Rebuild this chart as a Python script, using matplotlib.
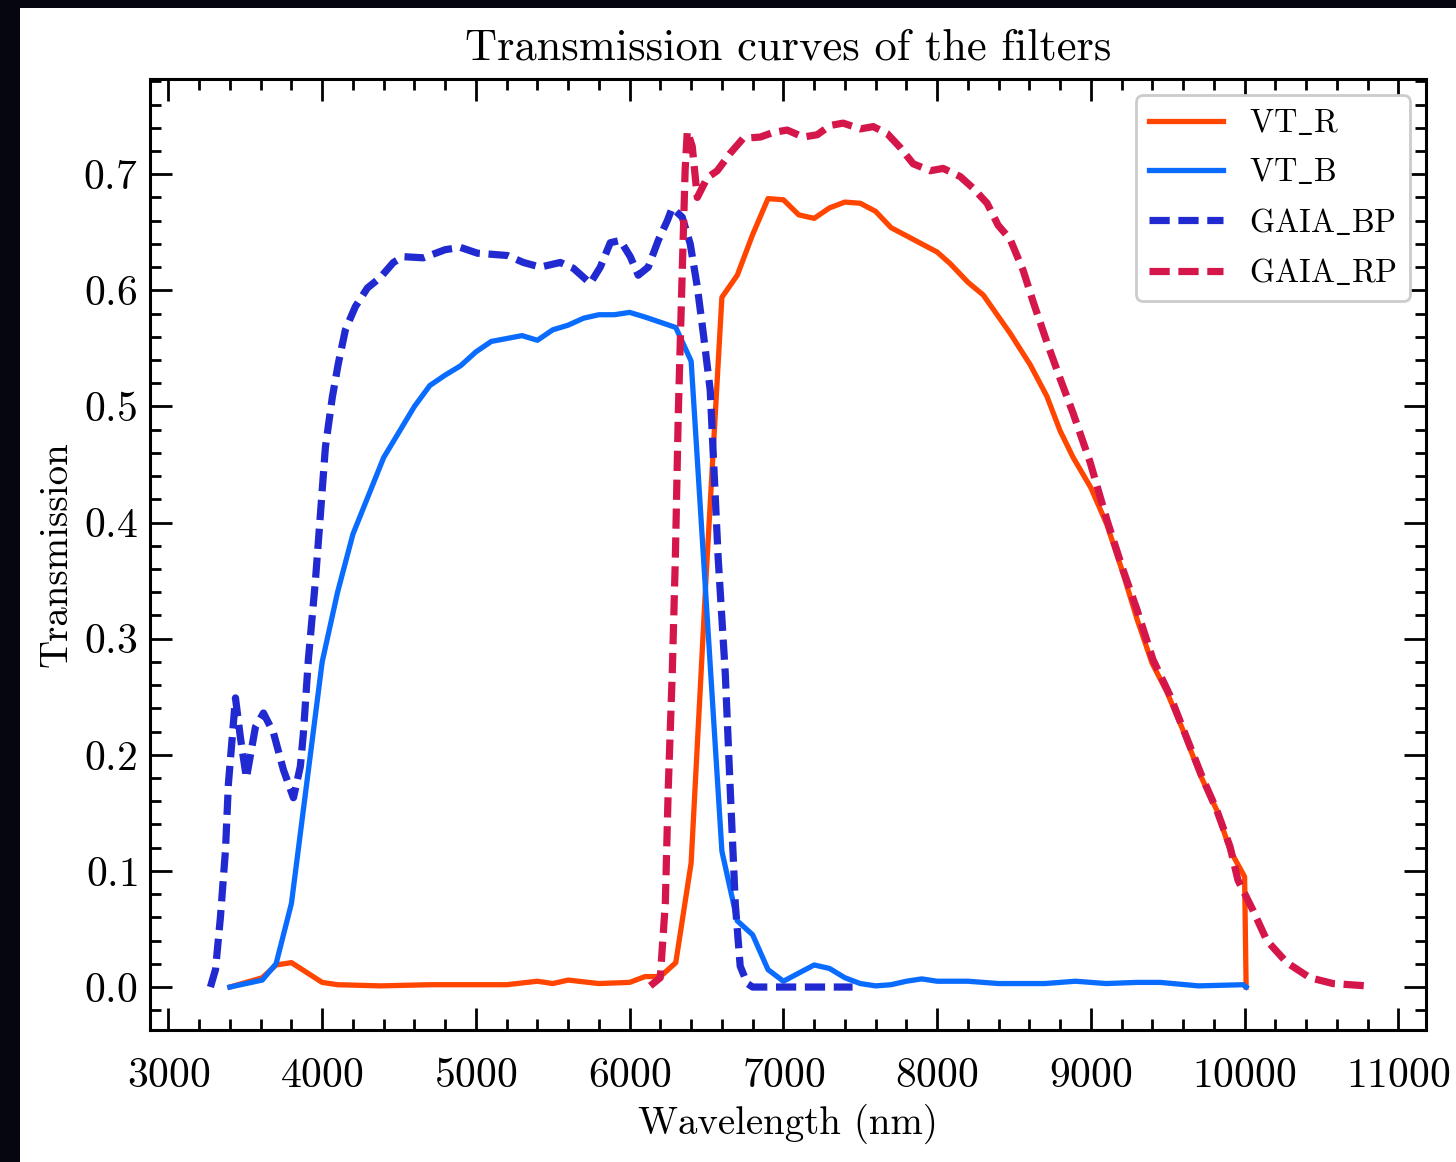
#!/usr/bin/env python

import matplotlib
matplotlib.use("Agg")
import matplotlib.pyplot as plt     # https://matplotlib.org
from matplotlib.patches import Rectangle
from matplotlib.ticker import MultipleLocator

# Transmission curves (wavelength, transmission)
vt_r_wave = [3400, 3610, 3700, 3800, 4000, 4100, 4380, 4700, 5000, 5200,
             5400, 5500, 5600, 5800, 6000, 6100, 6200, 6300, 6400, 6500,
             6600, 6700, 6800, 6900, 7000, 7100, 7200, 7300, 7400, 7500,
             7600, 7700, 7800, 8000, 8085, 8200, 8300, 8475, 8605, 8713,
             8800, 8885, 9000, 9105, 9210, 9300, 9398, 9495, 9600, 9710,
             9820, 9905, 10000, 10010]
vt_r_trans = [0.0, 0.008, 0.019, 0.021, 0.004, 0.002, 0.001, 0.002, 0.002, 0.002,
              0.005, 0.003, 0.006, 0.003, 0.004, 0.009, 0.009, 0.021, 0.107, 0.36,
              0.594, 0.613, 0.648, 0.679, 0.678, 0.665, 0.662, 0.671, 0.676, 0.675,
              0.668, 0.654, 0.647, 0.633, 0.623, 0.607, 0.596, 0.563, 0.536, 0.509,
              0.479, 0.456, 0.43, 0.398, 0.356, 0.317, 0.279, 0.254, 0.221, 0.183,
              0.152, 0.118, 0.095, 0.0]

vt_b_wave = [3400, 3610, 3700, 3800, 4000, 4100, 4200, 4400, 4600, 4700,
             4800, 4900, 5000, 5100, 5300, 5400, 5500, 5600, 5700, 5800,
             5900, 6000, 6100, 6300, 6400, 6600, 6700, 6800, 6900, 7000,
             7200, 7300, 7400, 7500, 7600, 7700, 7800, 7900, 8000, 8200,
             8400, 8700, 8900, 9100, 9300, 9450, 9700, 9990, 10010]
vt_b_trans = [0.0, 0.006, 0.02, 0.072, 0.28, 0.34, 0.39, 0.456, 0.50, 0.518,
              0.527, 0.535, 0.547, 0.556, 0.561, 0.557, 0.566, 0.570, 0.576, 0.579,
              0.579, 0.581, 0.577, 0.568, 0.539, 0.117, 0.057, 0.045, 0.015, 0.005,
              0.019, 0.016, 0.008, 0.003, 0.001, 0.002, 0.005, 0.007, 0.005, 0.005,
              0.003, 0.003, 0.005, 0.003, 0.004, 0.004, 0.001, 0.002, 0.0]

gaia_bp_wave = [3273, 3306, 3338, 3371, 3390, 3436, 3468, 3507, 3566, 3618,
                3683, 3748, 3813, 3858, 3878, 3910, 3956, 3989, 4021, 4066,
                4105, 4151, 4216, 4294, 4378, 4463, 4528, 4658, 4800, 4899,
                5009, 5204, 5309, 5418, 5549, 5634, 5744, 5809, 5874, 5939,
                6004, 6056, 6121, 6186, 6245, 6277, 6342, 6394, 6440, 6479,
                6524, 6576, 6622, 6654, 6687, 6719, 6765, 6800, 7450]
gaia_bp_trans = [0.0, 0.015, 0.06, 0.118, 0.175, 0.249, 0.215, 0.18, 0.224, 0.236,
                 0.219, 0.187, 0.163, 0.19, 0.219, 0.282, 0.35, 0.408, 0.465, 0.508,
                 0.537, 0.566, 0.586, 0.602, 0.611, 0.624, 0.629, 0.628, 0.635, 0.637,
                 0.632, 0.630, 0.624, 0.620, 0.624, 0.619, 0.606, 0.620, 0.641, 0.643,
                 0.629, 0.613, 0.620, 0.643, 0.660, 0.671, 0.663, 0.640, 0.603, 0.563,
                 0.514, 0.369, 0.27, 0.171, 0.072, 0.018, 0.003, 0.0, 0.0]

gaia_rp_wave = [6134, 6199, 6232, 6251, 6277, 6297, 6316, 6342, 6361, 6375,
                6407, 6440, 6505, 6570, 6654, 6739, 6850, 6934, 7025, 7129,
                7220, 7305, 7389, 7500, 7584, 7675, 7760, 7844, 7955, 8039,
                8150, 8234, 8325, 8397, 8475, 8560, 8625, 8715, 8800, 8885,
                8995, 9105, 9210, 9300, 9404, 9515, 9625, 9730, 9820, 9905,
                9957, 10055, 10145, 10275, 10425, 10575, 10795]
gaia_rp_trans = [0.001, 0.008, 0.072, 0.171, 0.27, 0.368, 0.492, 0.616, 0.704, 0.737,
                 0.724, 0.680, 0.697, 0.703, 0.718, 0.731, 0.732, 0.736, 0.738, 0.732,
                 0.734, 0.742, 0.744, 0.739, 0.741, 0.735, 0.723, 0.709, 0.703, 0.705,
                 0.698, 0.688, 0.675, 0.656, 0.644, 0.617, 0.590, 0.555, 0.524, 0.494,
                 0.452, 0.402, 0.359, 0.325, 0.282, 0.251, 0.214, 0.179, 0.152, 0.121,
                 0.092, 0.066, 0.040, 0.021, 0.008, 0.003, 0.001]


def style_axes(ax):
    """Inward ticks on all four sides, with minor ticks."""
    ax.xaxis.set_major_locator(MultipleLocator(1000))
    ax.xaxis.set_minor_locator(MultipleLocator(200))
    ax.yaxis.set_major_locator(MultipleLocator(0.1))
    ax.yaxis.set_minor_locator(MultipleLocator(0.02))
    ax.tick_params(which="both", direction="in", top=True, right=True, width=1.0)
    ax.tick_params(which="major", length=8)
    ax.tick_params(which="minor", length=4)
    ax.tick_params(axis="x", which="major", pad=10, labelsize=15)
    ax.tick_params(axis="y", which="major", pad=4.5, labelsize=15)
    for spine in ax.spines.values():
        spine.set_linewidth(1.1)


def main():
    plt.rcParams["font.family"] = "serif"
    plt.rcParams["font.serif"] = ["cmr10", "DejaVu Serif"]
    plt.rcParams["mathtext.fontset"] = "cm"
    plt.rcParams["axes.formatter.use_mathtext"] = True
    plt.rcParams["axes.unicode_minus"] = False

    fig = plt.figure(figsize=(7.28, 5.81), dpi=200, facecolor="#05060f")
    # white page of the screenshot, behind everything else
    fig.patches.append(Rectangle((20 / 1456, 0), 1, 1 - 8 / 1162,
                                 transform=fig.transFigure, facecolor="white",
                                 edgecolor="none", zorder=-10))
    ax = fig.add_axes([150 / 1456, 132 / 1162, 1276 / 1456, 951 / 1162])
    ax.set_zorder(1)

    ax.plot(vt_r_wave, vt_r_trans, color="#ff4500", lw=1.9,
            label=r"$\mathrm{VT\_R}$")
    ax.plot(vt_b_wave, vt_b_trans, color="#0a6cff", lw=1.9,
            label=r"$\mathrm{VT\_B}$")
    ax.plot(gaia_bp_wave, gaia_bp_trans, color="#2129d1", lw=2.6,
            ls=(0, (2.8, 1.2)), label=r"$\mathrm{GAIA\_BP}$")
    ax.plot(gaia_rp_wave, gaia_rp_trans, color="#d5164a", lw=2.6,
            ls=(0, (2.8, 1.2)), label=r"$\mathrm{GAIA\_RP}$")

    ax.set_xlim(2880, 11180)
    ax.set_ylim(-0.037, 0.782)
    style_axes(ax)

    ax.set_title("Transmission curves of the filters", fontsize=16, pad=7)
    ax.set_xlabel("Wavelength (nm)", fontsize=14, labelpad=3)
    ax.set_ylabel("Transmission", fontsize=14, labelpad=3)

    leg = ax.legend(loc="upper right", fontsize=11.6, fancybox=True,
                    handlelength=2.3, labelspacing=0.6, framealpha=1.0)
    leg.get_frame().set_edgecolor("#cccccc")
    leg.get_frame().set_linewidth(1.0)

    fig.savefig("out.png", dpi=200, facecolor=fig.get_facecolor())


if __name__ == "__main__":
    main()
